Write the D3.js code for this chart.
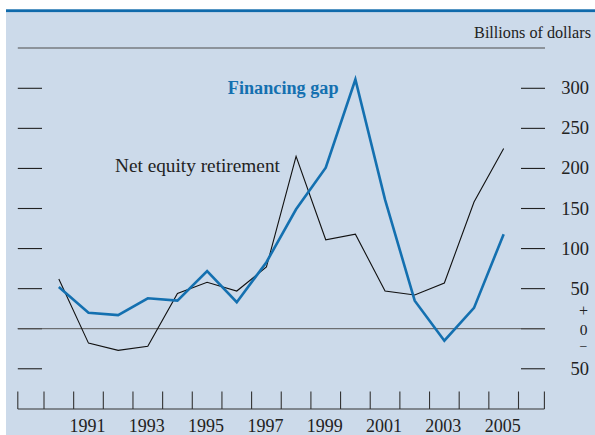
<!DOCTYPE html>
<html>
<head>
<meta charset="utf-8">
<script src="https://cdn.jsdelivr.net/npm/d3@7"></script>
<style>
  body { margin: 0; background: #fff; }
  svg { display: block; font-family: "Liberation Serif", "Times New Roman", serif; }
</style>
</head>
<body>
<svg id="chart" width="595" height="435"></svg>
<script>
// data (billions of dollars, annual)
const years = [1990, 1991, 1992, 1993, 1994, 1995, 1996, 1997, 1998, 1999, 2000, 2001, 2002, 2003, 2004, 2005];
const financingGap = [52, 20, 17, 38, 35, 72, 33, 83, 149, 201, 311, 161, 35, -15, 26, 118];
const netEquityRetirement = [62, -18, -27, -22, 44, 58, 47, 77, 215, 111, 118, 47, 42, 57, 158, 225];
const yTicks = [-50, 0, 50, 100, 150, 200, 250, 300];
const yearLabels = [1991, 1993, 1995, 1997, 1999, 2001, 2003, 2005];

const W = 595, H = 435;
const svg = d3.select("#chart");

// panel background + top blue rule
svg.append("rect").attr("x", 6).attr("y", 12).attr("width", W - 6).attr("height", H - 12).attr("fill", "#ccdaea");
svg.append("rect").attr("x", 6).attr("y", 9.3).attr("width", W - 6).attr("height", 2.8).attr("fill", "#0f6aab");

const left = 17.8, right = 545;
// year boundaries fall on ticks, points sit mid-year
const x = d3.scaleLinear().domain([1989.5, 2005.5]).range([44, 518.5]);
const y = d3.scaleLinear().domain([0, 300]).range([328.7, 88.3]);

// top gray rule
svg.append("line").attr("x1", left).attr("x2", right).attr("y1", 48).attr("y2", 48)
  .attr("stroke", "#777b80").attr("stroke-width", 1.6);

svg.append("text").attr("x", 591).attr("y", 38.3).attr("text-anchor", "end")
  .attr("font-size", 16.2).attr("fill", "#222").text("Billions of dollars");

// y ticks on both sides
const g = svg.append("g");
g.selectAll("line.lt").data(yTicks).join("line").attr("class", "lt")
  .attr("x1", left).attr("x2", 42).attr("y1", d => y(d)).attr("y2", d => y(d))
  .attr("stroke", "#222").attr("stroke-width", 1.1);
g.selectAll("line.rt").data(yTicks).join("line").attr("class", "rt")
  .attr("x1", 521).attr("x2", right).attr("y1", d => y(d)).attr("y2", d => y(d))
  .attr("stroke", "#222").attr("stroke-width", 1.1);
g.selectAll("text.yl").data(yTicks.filter(d => d !== 0)).join("text").attr("class", "yl")
  .attr("x", 589).attr("y", d => y(d) + 6).attr("text-anchor", "end")
  .attr("font-size", 18.5).attr("fill", "#222").text(d => Math.abs(d));
// + / 0 / − stacked at zero
g.append("text").attr("x", 583.5).attr("y", y(0) - 12.4).attr("text-anchor", "middle")
  .attr("font-size", 16).attr("fill", "#222").text("+");
g.append("text").attr("x", 583.5).attr("y", y(0) + 6).attr("text-anchor", "middle")
  .attr("font-size", 15.5).attr("fill", "#222").text("0");
g.append("text").attr("x", 583.5).attr("y", y(0) + 22).attr("text-anchor", "middle")
  .attr("font-size", 14).attr("fill", "#222").text("\u2212");

// zero line
svg.append("line").attr("x1", left).attr("x2", right).attr("y1", y(0)).attr("y2", y(0))
  .attr("stroke", "#555").attr("stroke-width", 1);

// x axis
const xa = svg.append("g");
xa.append("line").attr("x1", left).attr("x2", right - 0.6).attr("y1", 409).attr("y2", 409)
  .attr("stroke", "#333").attr("stroke-width", 1.1);
const xTicks = d3.range(1989.5, 2006, 1);
const tickXs = [left, ...xTicks.map(x), right - 0.6];
xa.selectAll("line.xt").data(tickXs).join("line").attr("class", "xt")
  .attr("x1", d => d).attr("x2", d => d).attr("y1", 391.5).attr("y2", 409)
  .attr("stroke", "#333").attr("stroke-width", 1.1);
xa.selectAll("text").data(yearLabels).join("text")
  .attr("x", d => x(d) - 1).attr("y", 431.5).attr("text-anchor", "middle")
  .attr("font-size", 18).attr("fill", "#222").text(d => d);

// lines
const line = d3.line().x((d, i) => x(years[i])).y(d => y(d));
svg.append("path").datum(netEquityRetirement).attr("d", line)
  .attr("fill", "none").attr("stroke", "#111").attr("stroke-width", 1.1);
svg.append("path").datum(financingGap).attr("d", line)
  .attr("fill", "none").attr("stroke", "#1470b0").attr("stroke-width", 2.6)
  .attr("stroke-linejoin", "miter");

// series labels
svg.append("text").attr("x", 338.5).attr("y", 94).attr("text-anchor", "end")
  .attr("font-size", 18.2).attr("font-weight", "bold").attr("fill", "#1470b0").text("Financing gap");
svg.append("text").attr("x", 115).attr("y", 172.3).attr("font-size", 19.3).attr("fill", "#222")
  .text("Net equity retirement");
</script>
</body>
</html>
